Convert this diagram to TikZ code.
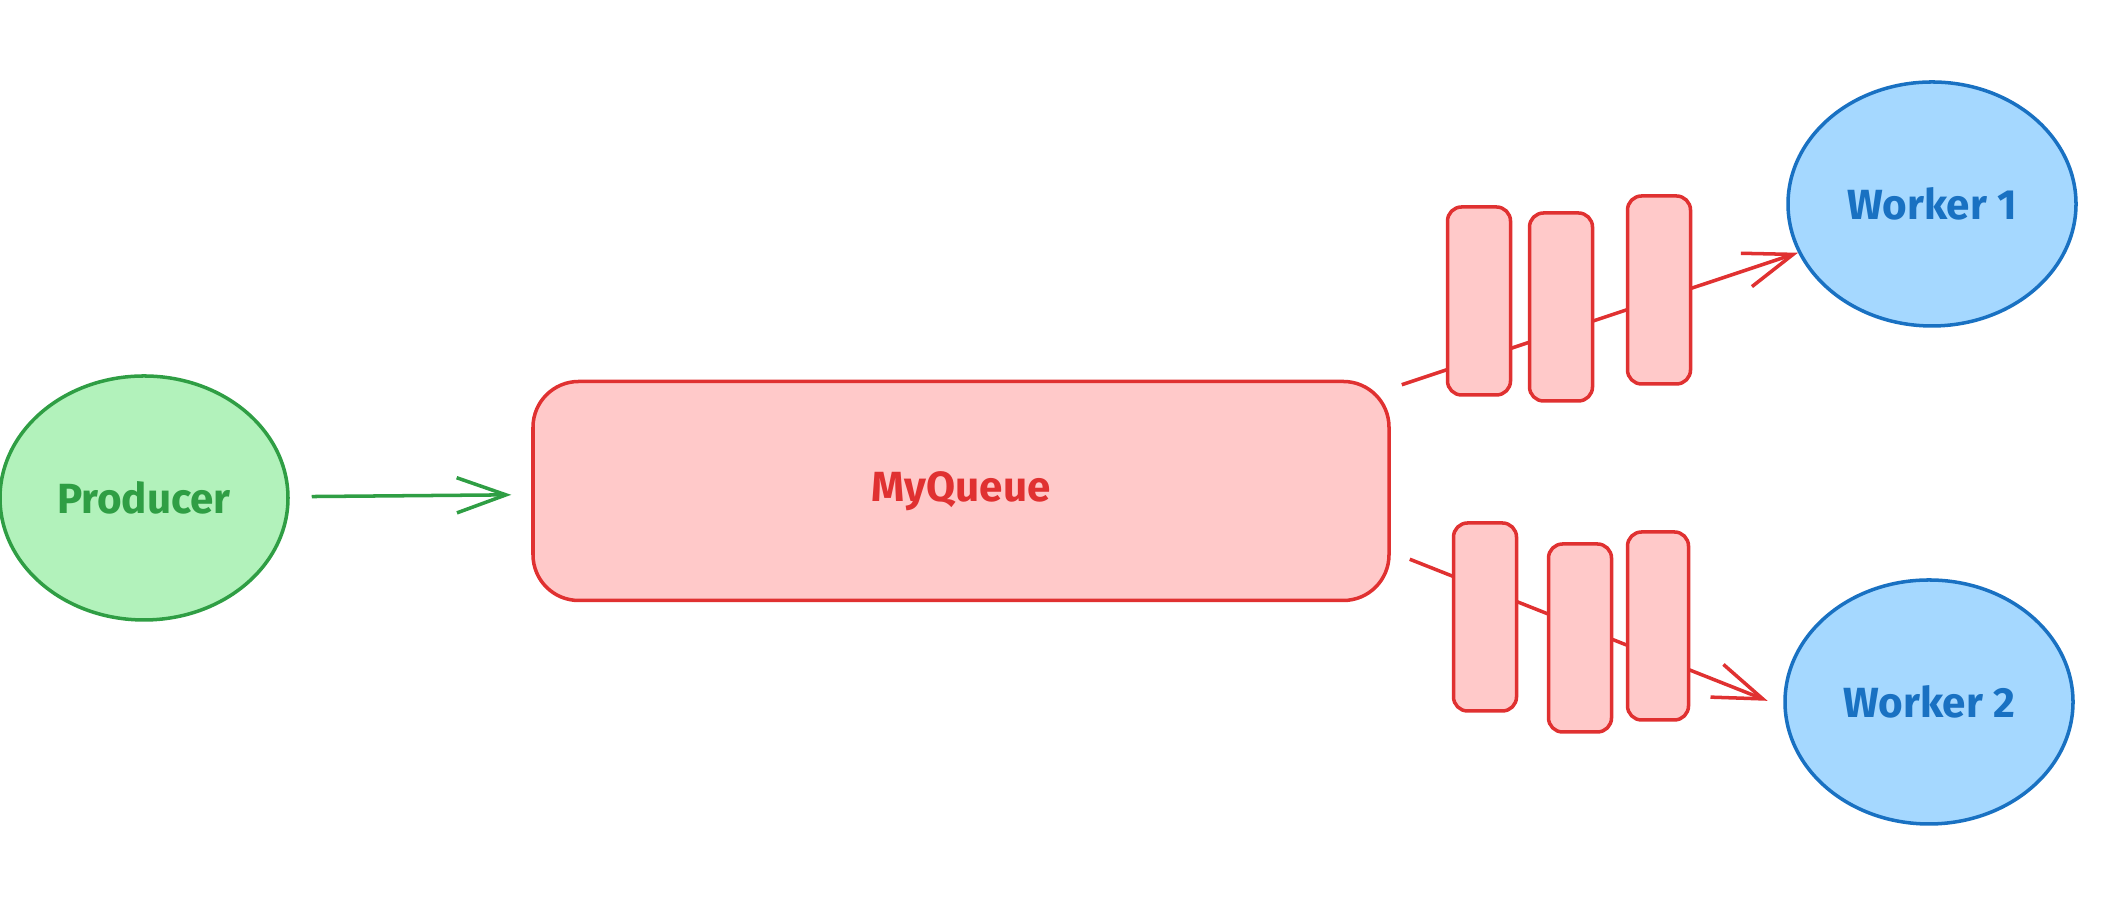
\documentclass[tikz,border=0pt]{standalone}
\usepackage{xcolor}
\usepackage{fontspec}
\setmainfont{Fira Sans}
\usetikzlibrary{arrows.meta,shapes.geometric}
\definecolor{prodStroke}{HTML}{2F9E44}
\definecolor{prodFill}{HTML}{B2F2BB}
\definecolor{queueStroke}{HTML}{E03131}
\definecolor{queueFill}{HTML}{FFC9C9}
\definecolor{workStroke}{HTML}{1971C2}
\definecolor{workFill}{HTML}{A5D8FF}

\begin{document}
\begin{tikzpicture}[
    producer/.style={ellipse, draw=prodStroke, fill=prodFill, line width=1pt, minimum width=2.88cm, minimum height=2.44cm, text=prodStroke, font=\fontsize{12}{14}\selectfont\bfseries},
    worker/.style={ellipse, draw=workStroke, fill=workFill, line width=1pt, minimum width=2.88cm, minimum height=2.44cm, text=workStroke, font=\fontsize{12}{14}\selectfont\bfseries},
    queuebox/.style={rectangle, draw=queueStroke, fill=queueFill, rounded corners=13pt, line width=1pt, minimum width=8.56cm, minimum height=2.19cm, text=queueStroke, font=\fontsize{12}{14}\selectfont\bfseries},
    msg/.style={rectangle, draw=queueStroke, fill=queueFill, rounded corners=4pt, line width=1pt, minimum width=0.63cm, minimum height=1.88cm, inner sep=0pt},
    link/.style={-{Straight Barb[length=14pt, width=10pt, line width=1pt]}, line width=1pt}
]
\useasboundingbox (0,0) rectangle (21.04,9.16);

% Producer and queue
\node[producer] (producer) at (1.44,4.18) {Producer};
\node[queuebox] (queue) at (9.61,4.25) {MyQueue};

% Workers
\node[worker] (worker1) at (19.32,7.12) {Worker 1};
\node[worker] (worker2) at (19.29,2.14) {Worker 2};

% Connections
\draw[link, color=prodStroke, shorten <=0.22cm, shorten >=0.2cm] (producer) -- (queue);
\draw[link, color=queueStroke] ([shift={(0.11,-0.05)}]queue.north east) -- (worker1.200);
\draw[link, color=queueStroke, shorten >=0.17cm] ([shift={(0.19,0.43)}]queue.south east) -- (worker2.182);

% Messages on the way to worker 1
\node[msg] (msg1) at (14.79,6.15) {};
\node[msg] (msg2) at (15.61,6.09) {};
\node[msg] (msg3) at (16.59,6.26) {};

% Messages on the way to worker 2
\node[msg] (msg4) at (14.85,2.99) {};
\node[msg] (msg5) at (15.80,2.78) {};
\node[msg, minimum width=0.61cm] (msg6) at (16.58,2.90) {};

\end{tikzpicture}
\end{document}
